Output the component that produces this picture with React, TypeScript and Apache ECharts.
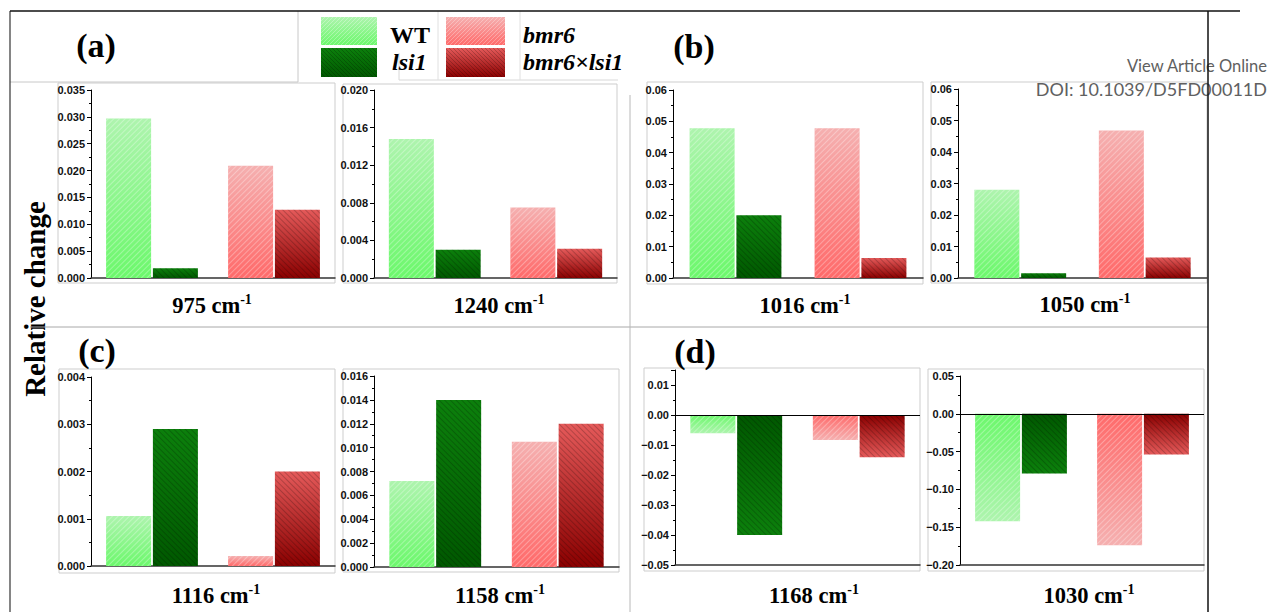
import React, { useEffect, useRef } from 'react';
import * as echarts from 'echarts';

// ---- data ----
const wavenumbers = ['975', '1240', '1016', '1050', '1116', '1158', '1168', '1030'];
const groupCategories = ['WT / lsi1', 'bmr6 / bmr6×lsi1'];
const wtValues = [0.0297, 0.0148, 0.0478, 0.028, 0.00106, 0.0072, -0.0061, -0.142];
const lsi1Values = [0.0018, 0.003, 0.02, 0.0015, 0.0029, 0.014, -0.04, -0.079];
const bmr6Values = [0.0209, 0.0075, 0.0478, 0.0468, 0.00021, 0.0105, -0.0083, -0.174];
const bmr6lsi1Values = [0.0127, 0.0031, 0.0064, 0.0065, 0.002, 0.012, -0.0141, -0.054];
const yMins = [0, 0, 0, 0, 0, 0, -0.05, -0.2];
const yMaxs = [0.035, 0.02, 0.06, 0.06, 0.004, 0.016, 0.015, 0.05];
const yIntervals = [0.005, 0.004, 0.01, 0.01, 0.001, 0.002, 0.01, 0.05];
const yDecimals = [3, 3, 2, 2, 3, 3, 2, 2];
const panelLabels = ['(a)', '(b)', '(c)', '(d)'];
const legendNames = ['WT', 'lsi1', 'bmr6', 'bmr6×lsi1'];

// ---- layout (positions only) ----
const grids = [
  { left: 91, top: 90, width: 244, height: 188 },
  { left: 374, top: 90, width: 243, height: 188 },
  { left: 673, top: 90, width: 250, height: 188 },
  { left: 958, top: 89, width: 249, height: 189 },
  { left: 91, top: 377, width: 244, height: 189 },
  { left: 374, top: 376, width: 245, height: 191 },
  { left: 675, top: 370, width: 245, height: 195 },
  { left: 960, top: 376, width: 244, height: 189 },
];
const boxes = [
  [58, 83, 277, 200],
  [343, 84, 274, 199],
  [647, 82, 276, 202],
  [931, 82, 276, 201],
  [59, 369, 276, 204],
  [343, 369, 276, 203],
  [644, 368, 276, 203],
  [928, 369, 276, 202],
];
const xLabelPos = [
  [212, 305], [499, 305], [805, 305], [1085, 304],
  [216, 595], [500, 595], [814, 595], [1089, 595],
];
const panelPos = [[96, 45], [694, 46], [97, 350], [695, 351]];

const palette: Record<string, { tip: string; base: string; hatch: string; rot: number }> = {
  WT: { tip: '#aef4ae', base: '#6cf86c', hatch: 'rgba(255,255,255,0.3)', rot: -Math.PI / 4 },
  lsi1: { tip: '#0c800c', base: '#005800', hatch: 'rgba(0,0,0,0.2)', rot: Math.PI / 4 },
  bmr6: { tip: '#f5b0b0', base: '#ff6a6a', hatch: 'rgba(255,255,255,0.3)', rot: -Math.PI / 4 },
  'bmr6×lsi1': { tip: '#e55a5a', base: '#8a0000', hatch: 'rgba(0,0,0,0.2)', rot: Math.PI / 4 },
};

const serif = 'Liberation Serif, Times New Roman, serif';
const sans = 'Liberation Sans, Arial, sans-serif';

function grad(v: number, key: string) {
  const p = palette[key];
  const stops = v >= 0
    ? [{ offset: 0, color: p.tip }, { offset: 1, color: p.base }]
    : [{ offset: 0, color: p.base }, { offset: 1, color: p.tip }];
  return new echarts.graphic.LinearGradient(0, 0, 0, 1, stops);
}

function item(v: number, key: string) {
  const p = palette[key];
  return {
    value: v,
    name: key,
    itemStyle: {
      color: grad(v, key),
      decal: {
        symbol: 'rect',
        symbolSize: 1,
        color: p.hatch,
        dashArrayX: [1, 0],
        dashArrayY: [1, 3],
        rotation: p.rot,
      },
    },
  };
}

export default function App() {
  const ref = useRef<HTMLDivElement>(null);
  useEffect(() => {
    if (!ref.current) return;
    const chart = echarts.init(ref.current, undefined, { renderer: 'svg' });

    const xAxis: any[] = [];
    const yAxis: any[] = [];
    const series: any[] = [];
    const graphic: any[] = [];

    wavenumbers.forEach((wn, i) => {
      const min = yMins[i];
      const interval = yIntervals[i];
      xAxis.push({
        type: 'category',
        gridIndex: i,
        data: groupCategories,
        axisLine: { onZero: false, lineStyle: { color: '#333', width: 1.5 } },
        axisTick: { show: false },
        axisLabel: { show: false },
      });
      yAxis.push({
        type: 'value',
        gridIndex: i,
        min,
        max: yMaxs[i],
        interval,
        splitLine: { show: false },
        axisLine: { show: true, onZero: false, lineStyle: { color: '#000', width: 1 } },
        axisTick: { show: true, length: 4, lineStyle: { color: '#000' } },
        minorTick: { show: true, splitNumber: 2, length: 2, lineStyle: { color: '#000' } },
        axisLabel: {
          fontSize: 11,
          fontWeight: 'bold',
          fontFamily: sans,
          color: '#111',
          margin: 6,
          formatter: (v: number) => {
            const k = (v - min) / interval;
            if (Math.abs(k - Math.round(k)) > 1e-6) return '';
            const vv = Math.abs(v) < 1e-9 ? 0 : v;
            return vv.toFixed(yDecimals[i]).replace('-', '−');
          },
        },
      });
      const first: any = {
        type: 'bar',
        name: 'first',
        xAxisIndex: i,
        yAxisIndex: i,
        barWidth: 45,
        barGap: '4%',
        data: [item(wtValues[i], 'WT'), item(bmr6Values[i], 'bmr6')],
      };
      if (min < 0) {
        first.markLine = {
          silent: true,
          symbol: ['none', 'none'],
          label: { show: false },
          lineStyle: { color: '#000', width: 1.2, type: 'solid' },
          data: [{ yAxis: 0 }],
        };
      }
      series.push(first);
      series.push({
        type: 'bar',
        name: 'second',
        xAxisIndex: i,
        yAxisIndex: i,
        barWidth: 45,
        barGap: '4%',
        data: [item(lsi1Values[i], 'lsi1'), item(bmr6lsi1Values[i], 'bmr6×lsi1')],
      });

      const b = boxes[i];
      graphic.push({
        type: 'rect',
        shape: { x: b[0], y: b[1], width: b[2], height: b[3] },
        style: { fill: 'none', stroke: '#cdcdcd', lineWidth: 1 },
        z: 0,
      });
      graphic.push({
        type: 'text',
        x: xLabelPos[i][0],
        y: xLabelPos[i][1],
        style: {
          text: `{a|${wn} cm}{s|-1}`,
          align: 'center',
          verticalAlign: 'middle',
          rich: {
            a: { fontFamily: serif, fontWeight: 'bold', fontSize: 22.5, fill: '#000', lineHeight: 26 },
            s: { fontFamily: serif, fontWeight: 'bold', fontSize: 14, fill: '#000', lineHeight: 15, verticalAlign: 'top' },
          },
        },
      });
    });

    panelLabels.forEach((t, i) => {
      graphic.push({
        type: 'text',
        x: panelPos[i][0],
        y: panelPos[i][1],
        style: {
          text: t,
          align: 'center',
          verticalAlign: 'middle',
          fontFamily: serif,
          fontWeight: 'bold',
          fontSize: 34,
          fill: '#000',
        },
      });
    });

    // Y title
    graphic.push({
      type: 'text',
      x: 35,
      y: 299,
      rotation: Math.PI / 2,
      style: {
        text: 'Relative change',
        align: 'center',
        verticalAlign: 'middle',
        fontFamily: serif,
        fontWeight: 'bold',
        fontSize: 29,
        fill: '#000',
      },
    });

    // frame lines
    const line = (x1: number, y1: number, x2: number, y2: number, color: string, w = 1) => ({
      type: 'line',
      shape: { x1, y1, x2, y2 },
      style: { stroke: color, lineWidth: w },
    });
    graphic.push(line(30, 327, 1208, 327, '#a8a8a8'));
    graphic.push(line(630, 95, 630, 612, '#b8b8b8'));
    graphic.push(line(298, 11, 298, 82, '#c8c8c8'));
    graphic.push(line(10, 82, 298, 82, '#c8c8c8'));
    graphic.push(line(399, 53, 399, 80, '#d8d8d8'));
    graphic.push(line(399, 80, 618, 80, '#d8d8d8'));
    graphic.push(line(438, 11, 438, 80, '#e0e0e0'));
    graphic.push(line(520, 11, 520, 80, '#e0e0e0'));
    graphic.push(line(10, 11, 10, 612, '#333', 1.2));

    // legend
    const swatches = [
      { key: 'WT', x: 321, y: 17, w: 56, h: 28, tx: 390, ty: 35, italic: false },
      { key: 'lsi1', x: 321, y: 48, w: 56, h: 29, tx: 392, ty: 62, italic: true },
      { key: 'bmr6', x: 446, y: 17, w: 59, h: 28, tx: 523, ty: 35, italic: true },
      { key: 'bmr6×lsi1', x: 446, y: 48, w: 59, h: 29, tx: 523, ty: 62, italic: true },
    ];
    swatches.forEach((s, i) => {
      graphic.push({
        type: 'rect',
        shape: { x: s.x, y: s.y, width: s.w, height: s.h },
        style: { fill: grad(1, s.key) },
      });
      // hatch strokes inside swatch
      const step = 4;
      const dir = palette[s.key].rot > 0 ? 1 : -1;
      const hatchLines: any[] = [];
      for (let o = -s.h; o < s.w; o += step) {
        let x1 = s.x + o, y1 = s.y, x2 = s.x + o + s.h, y2 = s.y + s.h;
        // clip to swatch
        let ax = x1, ay = y1, bx = x2, by = y2;
        if (ax < s.x) { ay += s.x - ax; ax = s.x; }
        if (bx > s.x + s.w) { by -= bx - (s.x + s.w); bx = s.x + s.w; }
        if (bx <= ax) continue;
        if (dir < 0) {
          // mirror vertically for "/" direction
          ay = s.y + s.h - (ay - s.y);
          by = s.y + s.h - (by - s.y);
        }
        hatchLines.push({
          type: 'line',
          shape: { x1: ax, y1: ay, x2: bx, y2: by },
          style: { stroke: palette[s.key].hatch, lineWidth: 1 },
          silent: true,
        });
      }
      graphic.push({ type: 'group', children: hatchLines });
      graphic.push({
        type: 'text',
        x: s.tx,
        y: s.ty,
        style: {
          text: legendNames[i],
          align: 'left',
          verticalAlign: 'middle',
          fontFamily: serif,
          fontWeight: 'bold',
          fontStyle: s.italic ? 'italic' : 'normal',
          fontSize: 24,
          fill: '#000',
        },
      });
    });

    // watermark text
    graphic.push({
      type: 'text',
      x: 1267,
      y: 66,
      style: { text: 'View Article Online', align: 'right', verticalAlign: 'middle', fontFamily: 'Lato, Open Sans, sans-serif', fontSize: 16.5, fill: '#606060' },
    });
    graphic.push({
      type: 'text',
      x: 1267,
      y: 89,
      style: { text: 'DOI: 10.1039/D5FD00011D', align: 'right', verticalAlign: 'middle', fontFamily: 'Lato, Open Sans, sans-serif', fontSize: 18, fill: '#606060' },
    });
    graphic.push(line(10, 11, 1240, 11, '#111', 1.5));
    graphic.push(line(1208, 11, 1208, 612, '#111', 1.5));

    chart.setOption({
      animation: false,
      backgroundColor: '#fff',
      grid: grids.map((g) => ({ ...g, containLabel: false })),
      xAxis,
      yAxis,
      series,
      graphic,
    });
    return () => chart.dispose();
  }, []);
  return (
    <div
      ref={ref}
      style={{ position: 'absolute', left: 0, top: 0, width: 1269, height: 612, background: '#fff' }}
    />
  );
}
